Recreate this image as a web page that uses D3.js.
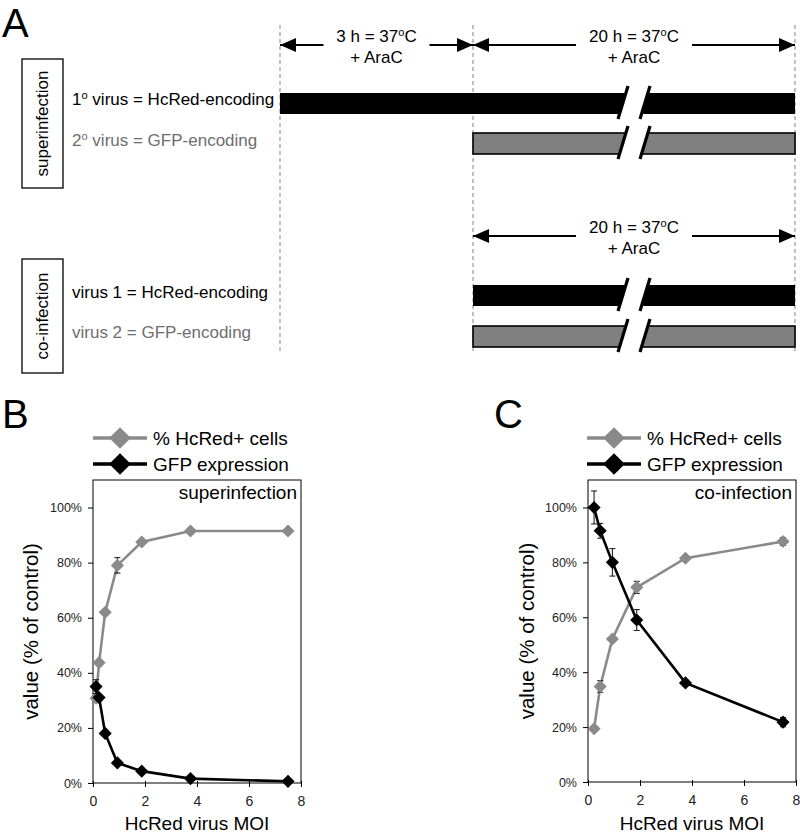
<!DOCTYPE html>
<html><head><meta charset="utf-8">
<script src="https://cdn.jsdelivr.net/npm/d3@7"></script>
<style>
body{margin:0;background:#fff;}
svg text{font-family:"Liberation Sans",Arial,sans-serif;}
</style></head>
<body>
<script>
// ---------- DATA ----------
const moiB = [0.117, 0.234, 0.469, 0.938, 1.875, 3.75, 7.5];
const hcredB = [30.8, 43.7, 62, 79, 87.5, 91.5, 91.5];
const hcredErrB = [0.8, 0.8, 0.8, 2.8, 0.6, 0.5, 0.5];
const gfpB = [35, 31, 18, 7.3, 4.3, 1.6, 0.6];
const gfpErrB = [2.5, 0.8, 0.8, 0.8, 0.5, 0.5, 0.3];

const moiC = [0.234, 0.469, 0.938, 1.875, 3.75, 7.5];
const hcredC = [19.4, 34.8, 52.1, 70.9, 81.5, 87.6];
const hcredErrC = [1.0, 2.1, 0.8, 2.2, 0.8, 1.4];
const gfpC = [100, 91.5, 80, 59, 36.1, 21.8];
const gfpErrC = [6, 2.7, 5, 3.8, 1.0, 1.7];

const xTicks = [0, 2, 4, 6, 8];
const yTicks = [0, 20, 40, 60, 80, 100];
const legendLabels = ["% HcRed+ cells", "GFP expression"];

// timeline (hours) for panel A
const timeMarks = [0, 3, 23];
const breakTime = 13;

const GRAY = "#8a8a8a";
const W = 800, H = 835;
const svg = d3.select("body").append("svg").attr("width", W).attr("height", H);

// ---------- PANEL A ----------
const tx = d3.scaleLinear().domain([0, 3, 23]).range([280, 473, 795]);

svg.append("text").attr("x", 2).attr("y", 37).attr("font-size", 40).text("A");

const defs = svg.append("defs");
defs.append("marker").attr("id", "ah").attr("viewBox", "0 0 16 14")
  .attr("refX", 16).attr("refY", 7).attr("markerWidth", 16).attr("markerHeight", 14)
  .attr("markerUnits", "userSpaceOnUse").attr("orient", "auto-start-reverse")
  .append("path").attr("d", "M0,0 L16,7 L0,14 Z").attr("fill", "#000");

// dashed lines
svg.selectAll(".dash").data(timeMarks).join("line")
  .attr("x1", d => tx(d)).attr("x2", d => tx(d))
  .attr("y1", 25).attr("y2", 354)
  .attr("stroke", "#999").attr("stroke-width", 1.2).attr("stroke-dasharray", "4,3");

function sup(sel, parts) {
  sel.append("tspan").text(parts[0]);
  sel.append("tspan").attr("font-size", "0.65em").attr("dy", -6).text(parts[1]);
  sel.append("tspan").attr("dy", 6).text(parts[2]);
}

function timeArrow(t0, t1, y, label) {
  const x0 = tx(t0), x1 = tx(t1), cx = (x0 + x1) / 2;
  const g = svg.append("g");
  const t = g.append("text").attr("x", cx).attr("y", y - 3).attr("text-anchor", "middle").attr("font-size", 17);
  sup(t, [label, "o", "C"]);
  g.append("text").attr("x", cx).attr("y", y + 18).attr("text-anchor", "middle").attr("font-size", 17).text("+ AraC");
  const half = (t1 - t0 > 5) ? 58 : 53;
  g.append("line").attr("x1", cx - half).attr("x2", x0).attr("y1", y).attr("y2", y)
    .attr("stroke", "#000").attr("stroke-width", 2).attr("marker-end", "url(#ah)");
  g.append("line").attr("x1", cx + half).attr("x2", x1).attr("y1", y).attr("y2", y)
    .attr("stroke", "#000").attr("stroke-width", 2).attr("marker-end", "url(#ah)");
}
timeArrow(0, 3, 45, "3 h = 37");
timeArrow(3, 23, 45, "20 h = 37");
timeArrow(3, 23, 236, "20 h = 37");

function bar(t0, t1, y0, y1, fill) {
  svg.append("rect").attr("x", tx(t0)).attr("y", y0).attr("width", tx(t1) - tx(t0)).attr("height", y1 - y0)
    .attr("fill", fill).attr("stroke", "#000").attr("stroke-width", fill === "#000" ? 0 : 1.6);
  const bx = tx(breakTime), top = y0 - 7, bot = y1 + 5, s = 5, gap = 11;
  svg.append("path")
    .attr("d", `M${bx - gap + s},${top} L${bx + gap + s},${top} L${bx + gap - s},${bot} L${bx - gap - s},${bot} Z`)
    .attr("fill", "#fff");
  [-gap, gap].forEach(o => {
    svg.append("line").attr("x1", bx + o + s).attr("y1", top).attr("x2", bx + o - s).attr("y2", bot)
      .attr("stroke", "#000").attr("stroke-width", 3.2);
  });
}
bar(0, 23, 93, 114, "#000");
bar(3, 23, 133, 154, "#808080");
bar(3, 23, 285, 306, "#000");
bar(3, 23, 326, 347, "#808080");

// side boxes
function sideBox(y0, y1, label) {
  svg.append("rect").attr("x", 22).attr("y", y0).attr("width", 41).attr("height", y1 - y0)
    .attr("fill", "none").attr("stroke", "#000").attr("stroke-width", 1.3);
  svg.append("text").attr("transform", `translate(48,${(y0 + y1) / 2}) rotate(-90)`)
    .attr("text-anchor", "middle").attr("font-size", 17).text(label);
}
sideBox(59, 188, "superinfection");
sideBox(259, 373, "co-infection");

const l1 = svg.append("text").attr("x", 72).attr("y", 105).attr("font-size", 17).attr("fill", "#000");
sup(l1, ["1", "o", " virus = HcRed-encoding"]);
const l2 = svg.append("text").attr("x", 72).attr("y", 146).attr("font-size", 17).attr("fill", "#6e6e6e");
sup(l2, ["2", "o", " virus = GFP-encoding"]);
svg.append("text").attr("x", 72).attr("y", 298).attr("font-size", 17).text("virus 1 = HcRed-encoding");
svg.append("text").attr("x", 72).attr("y", 338).attr("font-size", 17).attr("fill", "#6e6e6e").text("virus 2 = GFP-encoding");

// ---------- PANELS B / C ----------
const diamond = d3.symbol().type(d3.symbolDiamond2);

function panel(opts) {
  const { letter, letterX, left, right, top, bottom, moi, hc, hcErr, gfp, gfpErr, title, yTitleX, legX } = opts;
  svg.append("text").attr("x", letterX).attr("y", 428).attr("font-size", 40).text(letter);

  const x = d3.scaleLinear().domain([0, 8]).range([left, right]);
  const y = d3.scaleLinear().domain([0, 110]).range([bottom, top]);

  // legend
  [[GRAY, legendLabels[0], 438], ["#000", legendLabels[1], 464]].forEach(([c, lab, ly]) => {
    svg.append("line").attr("x1", legX).attr("x2", legX + 54).attr("y1", ly).attr("y2", ly)
      .attr("stroke", c).attr("stroke-width", 3.5);
    svg.append("path").attr("d", diamond.size(300)()).attr("transform", `translate(${legX + 27},${ly})`).attr("fill", c);
    svg.append("text").attr("x", legX + 60).attr("y", ly + 7).attr("font-size", 19).text(lab);
  });

  // frame
  svg.append("rect").attr("x", left).attr("y", top).attr("width", right - left).attr("height", bottom - top)
    .attr("fill", "none").attr("stroke", "#000").attr("stroke-width", 1);

  // axes
  const ya = svg.append("g").attr("transform", `translate(${left},0)`)
    .call(d3.axisLeft(y).tickValues(yTicks).tickFormat(d => d + "%").tickSize(5).tickPadding(6));
  ya.select(".domain").remove();
  ya.selectAll("text").attr("font-size", 12.5).attr("fill", "#222").attr("font-family", "Liberation Sans, Arial, sans-serif");
  const xa = svg.append("g").attr("transform", `translate(0,${bottom})`)
    .call(d3.axisBottom(x).tickValues(xTicks).tickFormat(d3.format("d")).tickSize(4).tickPadding(9));
  xa.select(".domain").remove();
  xa.selectAll("text").attr("font-size", 14).attr("fill", "#222").attr("font-family", "Liberation Sans, Arial, sans-serif");
  xa.selectAll(".tick line").attr("y1", -2);

  svg.append("text").attr("x", (left + right) / 2).attr("y", 830).attr("text-anchor", "middle").attr("font-size", 19)
    .text("HcRed virus MOI");
  svg.append("text").attr("transform", `translate(${yTitleX},${(top + bottom) / 2}) rotate(-90)`)
    .attr("text-anchor", "middle").attr("font-size", 20.5).text("value (% of control)");

  svg.append("text").attr("x", right - 4).attr("y", top + 19).attr("text-anchor", "end").attr("font-size", 19).text(title);

  const line = d3.line().x(d => x(d[0])).y(d => y(d[1]));
  function series(vals, errs, color) {
    const pts = moi.map((m, i) => [m, vals[i], errs[i]]);
    const g = svg.append("g");
    g.append("path").datum(pts).attr("d", line).attr("fill", "none").attr("stroke", color).attr("stroke-width", 2.6);
    g.selectAll(".eb").data(pts).join("path")
      .attr("d", d => `M${x(d[0]) - 3},${y(d[1] + d[2])}H${x(d[0]) + 3}M${x(d[0])},${y(d[1] + d[2])}V${y(d[1] - d[2])}M${x(d[0]) - 3},${y(d[1] - d[2])}H${x(d[0]) + 3}`)
      .attr("stroke", "#111").attr("stroke-width", 1).attr("fill", "none");
    g.selectAll(".pt").data(pts).join("path")
      .attr("d", diamond.size(110)()).attr("transform", d => `translate(${x(d[0])},${y(d[1])})`).attr("fill", color);
  }
  series(hc, hcErr, GRAY);
  series(gfp, gfpErr, "#000");
}

panel({ letter: "B", letterX: 2, left: 93, right: 301, top: 480, bottom: 783,
  moi: moiB, hc: hcredB, hcErr: hcredErrB, gfp: gfpB, gfpErr: gfpErrB,
  title: "superinfection", yTitleX: 38, legX: 93 });
panel({ letter: "C", letterX: 494, left: 588, right: 796, top: 480, bottom: 782,
  moi: moiC, hc: hcredC, hcErr: hcredErrC, gfp: gfpC, gfpErr: gfpErrC,
  title: "co-infection", yTitleX: 534, legX: 587 });
</script>
</body></html>
